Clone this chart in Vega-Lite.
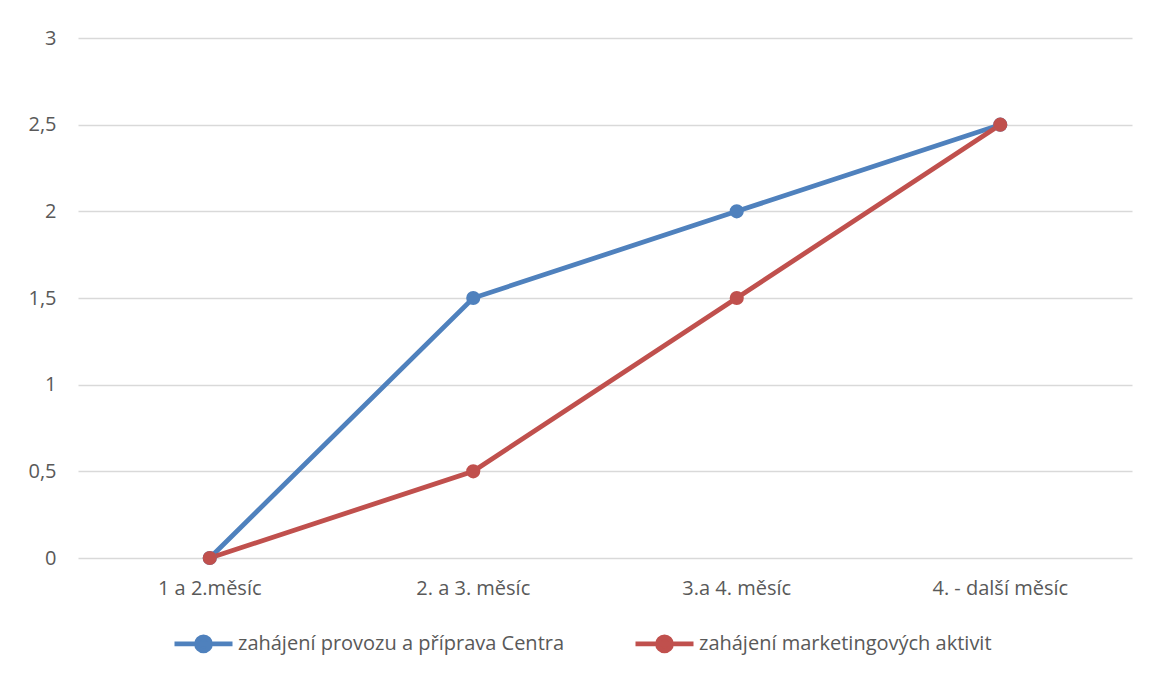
{
  "$schema": "https://vega.github.io/schema/vega-lite/v6.json",
  "width": 1054,
  "height": 520,
  "autosize": {"type": "none"},
  "padding": {"left": 78, "top": 38, "right": 21, "bottom": 117},
  "background": "white",
  "data": {"values": [
    {"period": "1 a 2.měsíc", "series": "zahájení provozu a příprava Centra", "value": 0},
    {"period": "2. a 3. měsíc", "series": "zahájení provozu a příprava Centra", "value": 1.5},
    {"period": "3.a 4. měsíc", "series": "zahájení provozu a příprava Centra", "value": 2},
    {"period": "4. - další měsíc", "series": "zahájení provozu a příprava Centra", "value": 2.5},
    {"period": "1 a 2.měsíc", "series": "zahájení marketingových aktivit", "value": 0},
    {"period": "2. a 3. měsíc", "series": "zahájení marketingových aktivit", "value": 0.5},
    {"period": "3.a 4. měsíc", "series": "zahájení marketingových aktivit", "value": 1.5},
    {"period": "4. - další měsíc", "series": "zahájení marketingových aktivit", "value": 2.5}
  ]},
  "mark": {"type": "line", "strokeWidth": 4.8, "point": {"filled": true, "size": 200, "opacity": 1}},
  "encoding": {
    "x": {
      "field": "period", "type": "ordinal",
      "sort": ["1 a 2.měsíc", "2. a 3. měsíc", "3.a 4. měsíc", "4. - další měsíc"],
      "scale": {"type": "band", "paddingInner": 0, "paddingOuter": 0},
      "axis": {"title": null, "labelAngle": 0, "ticks": false, "domain": false, "grid": false, "labelPadding": 20}
    },
    "y": {
      "field": "value", "type": "quantitative",
      "scale": {"domain": [0, 3], "nice": false},
      "axis": {"title": null, "values": [0, 0.5, 1, 1.5, 2, 2.5, 3], "labelExpr": "replace(format(datum.value, ''), '.', ',')", "ticks": false, "domain": false, "labelPadding": 22, "gridColor": "#D9D9D9", "gridWidth": 1.5}
    },
    "color": {
      "field": "series", "type": "nominal",
      "sort": ["zahájení provozu a příprava Centra", "zahájení marketingových aktivit"],
      "scale": {"domain": ["zahájení provozu a příprava Centra", "zahájení marketingových aktivit"], "range": ["#4F81BD", "#C0504D"]},
      "legend": {
        "title": null, "orient": "none", "direction": "horizontal", "legendX": 94, "legendY": 574,
        "symbolType": "M -1 0 L 1 0 M 0.24 0 A 0.24 0.24 0 1 1 -0.24 0 A 0.24 0.24 0 1 1 0.24 0 Z",
        "symbolSize": 3364, "symbolStrokeWidth": 4.8, "labelOffset": 3, "columnPadding": 60,
        "encode": {"symbols": {"update": {"fill": {"scale": "color", "field": "value"}, "stroke": {"scale": "color", "field": "value"}, "opacity": {"value": 1}}}}
      }
    }
  },
  "config": {
    "view": {"stroke": null},
    "font": "Open Sans",
    "axis": {"labelFont": "Open Sans", "labelFontSize": 20, "labelColor": "#595959"},
    "legend": {"labelFont": "Open Sans", "labelFontSize": 20, "labelColor": "#595959", "labelLimit": 600}
  }
}
